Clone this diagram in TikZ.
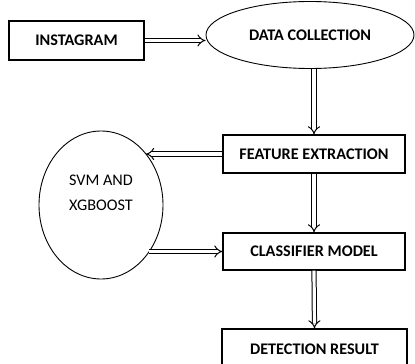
\documentclass[tikz,border=0pt]{standalone}
\usepackage{fontspec}
\setmainfont{Carlito}
\usetikzlibrary{shapes.geometric,arrows.meta}
\begin{document}
\begin{tikzpicture}[x=1pt,y=-1pt,
  lbl/.style={font=\fontsize{16.2}{19}\selectfont\bfseries},
  box/.style={draw,line width=1.1pt,rectangle,inner sep=0pt,lbl},
  oval/.style={draw,line width=0.9pt,ellipse,inner sep=0pt},
  flow/.style={double,double distance=3.2pt,line width=1pt,-{Implies[length=4.5pt]}}
]
\useasboundingbox (0,0) rectangle (415,364);
\clip (0,0) rectangle (415,364);
\node[box,minimum width=135pt,minimum height=39pt] (insta) at (76.5,40.5) {INSTAGRAM};
\node[oval,minimum width=208pt,minimum height=67pt,lbl] (dc) at (310,35) {\raisebox{-2pt}{DATA COLLECTION}};
\node[box,minimum width=182pt,minimum height=38pt] (fe) at (314,154) {FEATURE EXTRACTION};
\node[oval,minimum width=124pt,minimum height=148pt,align=center,font=\fontsize{16.2}{25}\selectfont] (svm) at (101,205) {SVM AND\\XGBOOST\\\mbox{}};
\node[box,minimum width=182pt,minimum height=37pt] (cm) at (314,251.5) {CLASSIFIER MODEL};
\node[box,minimum width=185pt,minimum height=40pt] (dr) at (314.5,349) {DETECTION RESULT};
\coordinate (svmA) at (146,154);
\coordinate (svmB) at (149,251.5);
\draw[flow] (insta.east) -- (insta.east -| dc.west);
\draw[flow] (fe.north |- dc.south) -- (fe.north);
\draw[flow] (fe.west) -- (svmA);
\draw[flow] (fe.south) -- (cm.north);
\draw[flow] (svmB) -- (cm.west);
\draw[flow] (cm.south) -- (dr.north);
\end{tikzpicture}
\end{document}
